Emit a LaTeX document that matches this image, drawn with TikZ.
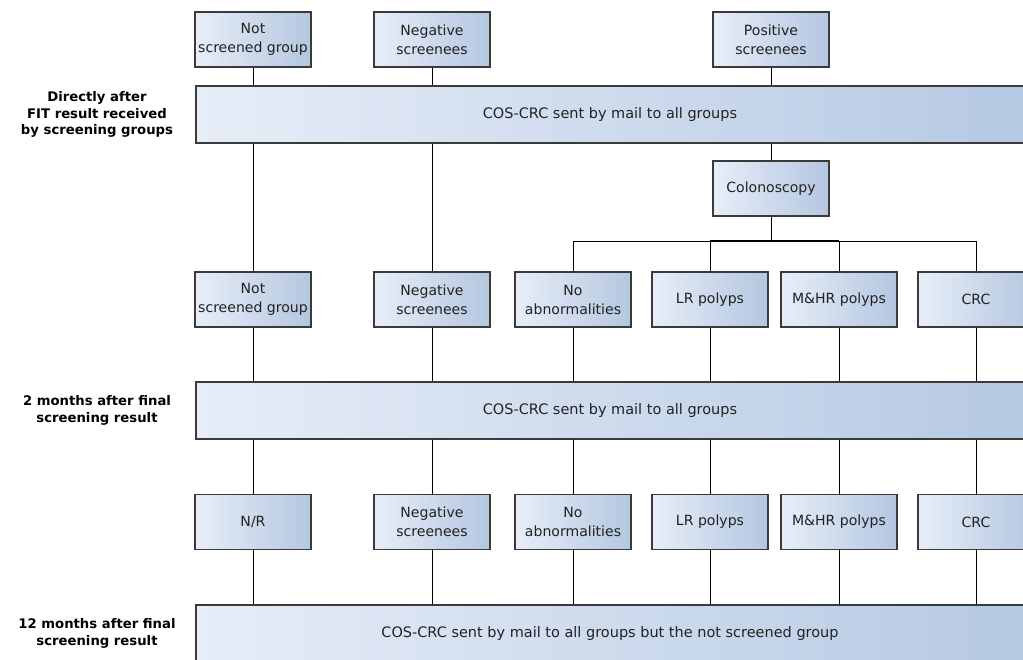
\documentclass[tikz,border=0pt]{standalone}
\usepackage{fontspec}
\setmainfont{DejaVu Sans}

\definecolor{boxlight}{HTML}{E7EEF8}
\definecolor{boxdark}{HTML}{B4C6E0}
\definecolor{bandlight}{HTML}{E6EDF7}
\definecolor{banddark}{HTML}{B6C9E3}
\definecolor{edge}{HTML}{3A3A3A}
\definecolor{txt}{HTML}{222222}

\tikzset{
  grupo/.style={draw=edge, line width=0.8pt, left color=boxlight, right color=boxdark,
    minimum width=2.9cm, minimum height=1.375cm, inner sep=1pt, align=center,
    text=txt, font=\fontsize{10}{13.5}\selectfont},
  faixa/.style={draw=edge, line width=0.8pt, left color=bandlight, right color=banddark,
    minimum width=20.7cm, minimum height=1.425cm, inner sep=0pt,
    text=txt, font=\fontsize{10.3}{13.5}\selectfont},
  etapa/.style={align=center, text=black, font=\bfseries\fontsize{9.4}{12}\selectfont},
  ligacao/.style={line width=0.6pt, black}
}

\begin{document}
\begin{tikzpicture}
\useasboundingbox (0,0) rectangle (25.575,16.475);
\clip (0,0) rectangle (25.575,16.475);

%Etapas (texto a esquerda)
%---------------------------------------------------
\node[etapa] (t1) at (2.425,13.6125) {Directly after\\FIT result received\\by screening groups};
\node[etapa] (t2) at (2.425,6.2125) {2 months after final\\screening result};
\node[etapa] (t3) at (2.425,0.6375) {12 months after final\\screening result};
%---------------------------------------------------

%Grupos iniciais e primeiro envio
%---------------------------------------------------
\node[grupo] (ns1) at (6.325,15.4875) {Not\\screened group};
\node[grupo] (neg1) at (10.8,15.4875) {Negative\\screenees};
\node[grupo] (pos1) at (19.275,15.4875) {Positive\\screenees};
\node[faixa] (band1) at (15.25,13.6125) {COS-CRC sent by mail to all groups};
\node[grupo] (colo) at (19.275,11.7625) {Colonoscopy};
\coordinate (bar) at (19.275,10.45);
%---------------------------------------------------

%Resultados depois da colonoscopia e segundo envio
%---------------------------------------------------
\node[grupo] (ns2) at (6.325,8.9875) {Not\\screened group};
\node[grupo] (neg2) at (10.8,8.9875) {Negative\\screenees};
\node[grupo] (noab2) at (14.325,8.9875) {No\\abnormalities};
\node[grupo] (lr2) at (17.75,8.9875) {LR polyps};
\node[grupo] (mhr2) at (20.975,8.9875) {M\&HR polyps};
\node[grupo] (crc2) at (24.4,8.9875) {CRC};
\node[faixa] (band2) at (15.25,6.2125) {COS-CRC sent by mail to all groups};
%---------------------------------------------------

%Terceira linha e ultimo envio
%---------------------------------------------------
\node[grupo] (nr3) at (6.325,3.425) {N/R};
\node[grupo] (neg3) at (10.8,3.425) {Negative\\screenees};
\node[grupo] (noab3) at (14.325,3.425) {No\\abnormalities};
\node[grupo] (lr3) at (17.75,3.425) {LR polyps};
\node[grupo] (mhr3) at (20.975,3.425) {M\&HR polyps};
\node[grupo] (crc3) at (24.4,3.425) {CRC};
\node[faixa] (band3) at (15.25,0.6375) {COS-CRC sent by mail to all groups but the not screened group};
%---------------------------------------------------

%Ligacoes
%---------------------------------------------------
\foreach \g in {ns1,neg1,pos1}
  \draw[ligacao] (\g.south) -- (\g.south |- band1.north);
\foreach \g in {ns2,neg2}
  \draw[ligacao] (band1.south -| \g.north) -- (\g.north);
\draw[ligacao] (band1.south -| colo.north) -- (colo.north);
\draw[ligacao] (colo.south) -- (bar);
\draw[ligacao] (noab2.north) |- (crc2.north |- bar) -- (crc2.north);
\draw[ligacao] (lr2.north) -- (lr2.north |- bar);
\draw[ligacao] (mhr2.north) -- (mhr2.north |- bar);
\draw[line width=1.1pt] (lr2.north |- bar) -- (mhr2.north |- bar);
\foreach \g in {ns2,neg2,noab2,lr2,mhr2,crc2}
  \draw[ligacao] (\g.south) -- (\g.south |- band2.north);
\foreach \g in {nr3,neg3,noab3,lr3,mhr3,crc3}
  \draw[ligacao] (band2.south -| \g.north) -- (\g.north);
\foreach \g in {nr3,neg3,noab3,lr3,mhr3,crc3}
  \draw[ligacao] (\g.south) -- (\g.south |- band3.north);
%---------------------------------------------------

\end{tikzpicture}
\end{document}
